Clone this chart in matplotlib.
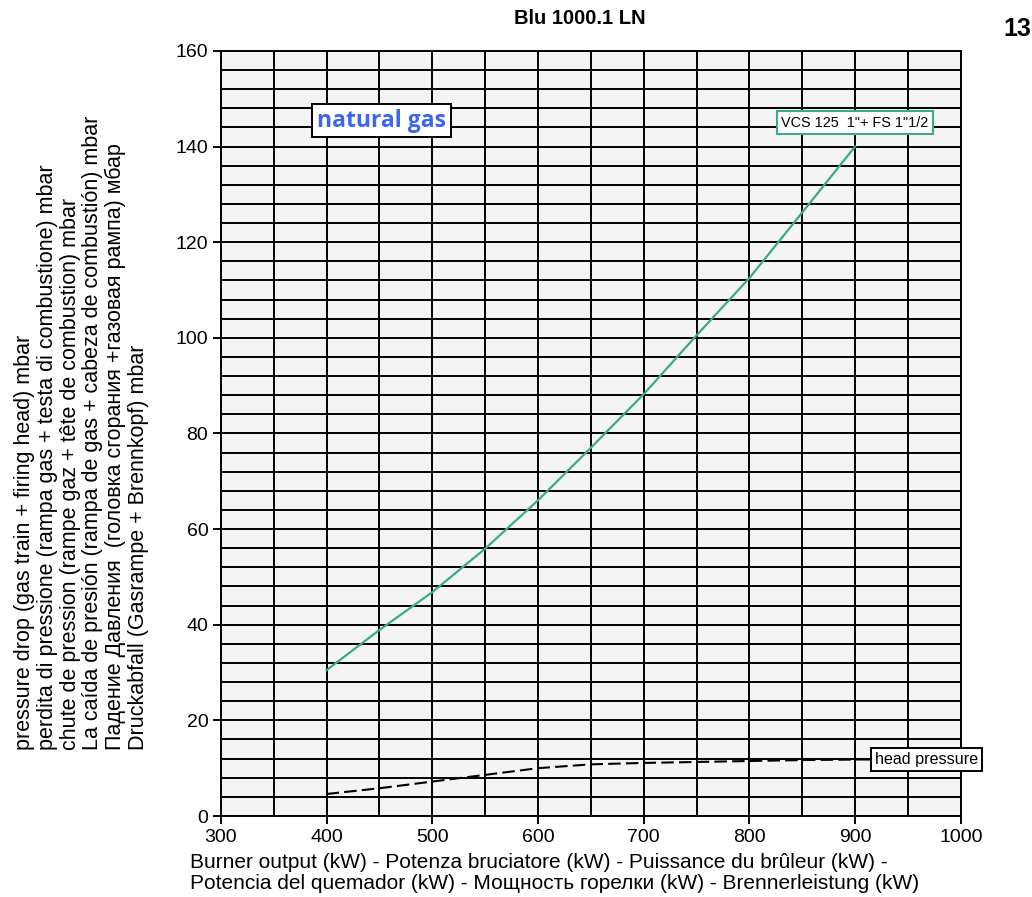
import numpy as np
import matplotlib.pyplot as plt
from matplotlib.ticker import MultipleLocator

# burner output (kW) and pressure drop readings (mbar)
output_kw = [400, 450, 500, 550, 600, 650, 700, 750, 800, 850, 900]
gas_train_mbar = [30.5, 38.9, 46.8, 55.9, 66.0, 77.0, 88.2, 100.5, 112.5, 126.2, 140.0]
head_mbar = [4.6, 5.8, 7.2, 8.6, 10.0, 10.8, 11.1, 11.3, 11.5, 11.7, 11.8]

x_ticks = [300, 400, 500, 600, 700, 800, 900, 1000]
y_ticks = [0, 20, 40, 60, 80, 100, 120, 140, 160]

title = 'Blu 1000.1 LN'
page_no = '13'
train_label = 'VCS 125  1"+ FS 1"1/2'
head_label = 'head pressure'
gas_label = 'natural gas'
ylabel_lines = [
    'pressure drop (gas train + firing head) mbar',
    'perdita di pressione (rampa gas + testa di combustione) mbar',
    'chute de pression (rampe gaz + tête de combustion) mbar',
    'La caída de presión (rampa de gas + cabeza de combustión) mbar',
    'Падение Давления  (головка сгорания +газовая рампа) мбар',
    'Druckabfall (Gasrampe + Brennkopf) mbar',
]
xlabel_lines = [
    'Burner output (kW) - Potenza bruciatore (kW) - Puissance du brûleur (kW) -',
    'Potencia del quemador (kW) - Мощность горелки (kW) - Brennerleistung (kW)',
]

plt.rcParams['font.family'] = ['Liberation Sans', 'DejaVu Sans']

green = '#3cab7d'

fig = plt.figure(figsize=(10.32, 8.97), dpi=100)
ax = fig.add_axes([0.214, 0.0903, 0.717, 0.853])
ax.set_facecolor('#f4f4f4')

ax.set_xlim(300, 1000)
ax.set_ylim(0, 160)
ax.set_xticks(x_ticks)
ax.set_yticks(y_ticks)
ax.xaxis.set_minor_locator(MultipleLocator(50))
ax.yaxis.set_minor_locator(MultipleLocator(4))
ax.grid(True, which='both', color='black', linewidth=1.4)
ax.set_axisbelow(True)
ax.tick_params(which='major', direction='out', length=6, width=1.4,
               labelsize=14, pad=3)
ax.tick_params(which='minor', length=0)
for s in ax.spines.values():
    s.set_linewidth(1.4)

ax.plot(output_kw, gas_train_mbar, color=green, linewidth=1.6)
ax.plot(output_kw, head_mbar, color='black', linewidth=1.5,
        linestyle=(0, (6, 2.5)))

# labels
ax.annotate(train_label, xy=(900, 145), ha='center', va='center', fontsize=10.4,
            bbox=dict(boxstyle='square,pad=0.3', fc='white', ec=green, lw=1.5))
ax.annotate(head_label, xy=(900, head_mbar[-1]), xytext=(919, head_mbar[-1]),
            ha='left', va='center', fontsize=11.6, annotation_clip=False,
            arrowprops=dict(arrowstyle='-', color='black', lw=1.4,
                            shrinkA=0, shrinkB=0),
            bbox=dict(boxstyle='square,pad=0.25', fc='white', ec='black', lw=1.4))
ax.text(452, 145.4, gas_label, ha='center', va='center', fontsize=16.5,
        fontweight='bold', color='#3a66f0', family=['Open Sans', 'DejaVu Sans'],
        bbox=dict(boxstyle='square,pad=0.2', fc='white', ec='black', lw=1.4))

fig.text(0.562, 0.979, title, ha='center', va='center', fontsize=14.5,
         fontweight='bold')
fig.text(0.999, 0.968, page_no, ha='right', va='center', fontsize=18,
         fontweight='bold')

fig.text(0.079, 0.164, '\n'.join(ylabel_lines), rotation=90, ha='center',
         va='bottom', multialignment='left', fontsize=15.5, linespacing=1.1)
fig.text(0.184, 0.027, '\n'.join(xlabel_lines), ha='left', va='center',
         multialignment='left', fontsize=15, linespacing=1.15)

fig.savefig('out.png', dpi=100)
